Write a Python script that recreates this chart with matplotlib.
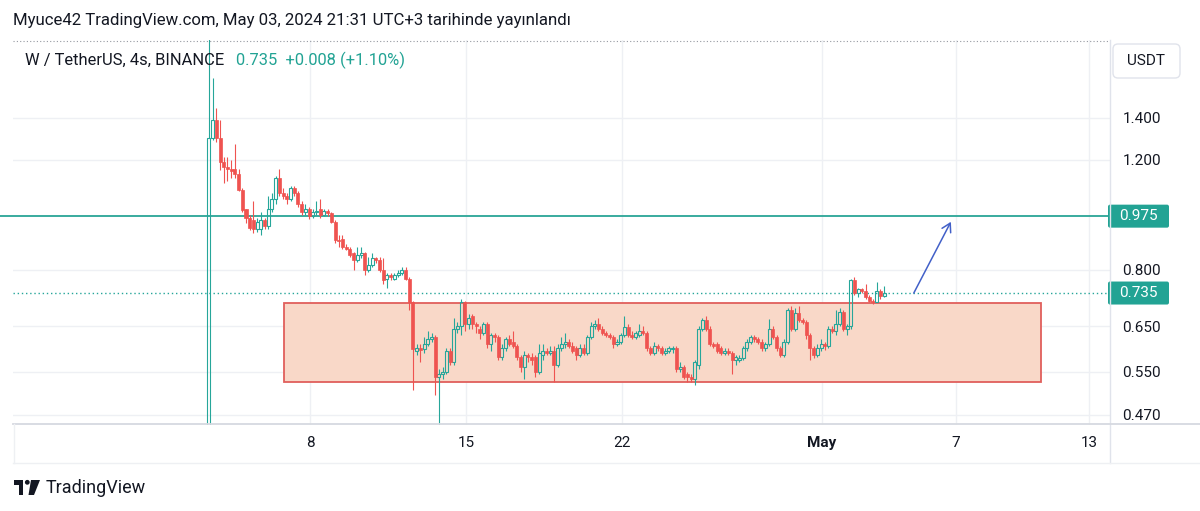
import matplotlib
matplotlib.use('Agg')
import matplotlib.pyplot as plt
import matplotlib.dates as mdates
import matplotlib.transforms as mtransforms
from matplotlib.patches import Rectangle, FancyBboxPatch, FancyArrowPatch, Polygon, Circle
from matplotlib.lines import Line2D
from matplotlib.ticker import NullLocator, FixedLocator
import numpy as np
import pandas as pd

plt.rcParams['font.family'] = ['Roboto', 'DejaVu Sans']

# ---------------- data (4h candles, W/USDT) ----------------
first_bar = '2024-04-03 11:00'
opens = [
    0.40, 1.30, 1.39, 1.30, 1.19, 1.17, 1.16, 1.16, 1.14, 1.074,
    1.0, 0.97, 0.96, 0.93, 0.93, 0.96, 0.94, 1.0, 1.04, 1.12,
    1.06, 1.05, 1.04, 1.08, 1.06, 1.02, 0.99, 1.0, 0.975, 0.99,
    1.0, 0.98, 0.995, 0.985, 0.955, 0.893, 0.895, 0.87, 0.865, 0.85,
    0.83, 0.845, 0.85, 0.80, 0.815, 0.835, 0.83, 0.80, 0.775, 0.785,
    0.775, 0.785, 0.79, 0.80, 0.775, 0.71, 0.595, 0.60, 0.598, 0.61,
    0.62, 0.625, 0.54, 0.545, 0.55, 0.595, 0.57, 0.645, 0.65, 0.71,
    0.655, 0.675, 0.655, 0.645, 0.635, 0.655, 0.61, 0.63, 0.625, 0.58,
    0.60, 0.62, 0.615, 0.605, 0.58, 0.56, 0.585, 0.58, 0.58, 0.55,
    0.585, 0.595, 0.59, 0.595, 0.565, 0.60, 0.61, 0.615, 0.605, 0.60,
    0.585, 0.60, 0.59, 0.625, 0.65, 0.655, 0.645, 0.635, 0.63, 0.625,
    0.61, 0.615, 0.63, 0.648, 0.63, 0.625, 0.63, 0.64, 0.635, 0.60,
    0.59, 0.605, 0.60, 0.59, 0.595, 0.598, 0.60, 0.555, 0.56, 0.545,
    0.54, 0.535, 0.565, 0.645, 0.665, 0.645, 0.61, 0.61, 0.60, 0.59,
    0.595, 0.59, 0.575, 0.575, 0.578, 0.60, 0.615, 0.625, 0.62, 0.615,
    0.60, 0.61, 0.645, 0.625, 0.60, 0.585, 0.615, 0.69, 0.645, 0.683,
    0.665, 0.66, 0.63, 0.60, 0.585, 0.60, 0.61, 0.605, 0.645, 0.64,
    0.655, 0.685, 0.645, 0.65, 0.77, 0.735, 0.745, 0.74, 0.725, 0.715,
    0.712, 0.74, 0.727]
highs = [
    2.20, 1.62, 1.45, 1.39, 1.21, 1.21, 1.20, 1.27, 1.16, 1.08,
    1.0, 0.98, 1.03, 0.97, 0.99, 0.97, 1.05, 1.06, 1.13, 1.16,
    1.08, 1.06, 1.09, 1.09, 1.07, 1.03, 1.02, 1.01, 1.0, 1.03,
    1.04, 1.0, 1.0, 0.99, 0.96, 0.91, 0.91, 0.88, 0.87, 0.855,
    0.87, 0.87, 0.855, 0.84, 0.85, 0.84, 0.84, 0.835, 0.79, 0.79,
    0.79, 0.80, 0.81, 0.81, 0.78, 0.715, 0.61, 0.61, 0.625, 0.64,
    0.635, 0.63, 0.555, 0.56, 0.60, 0.60, 0.67, 0.66, 0.72, 0.715,
    0.68, 0.68, 0.66, 0.65, 0.66, 0.66, 0.635, 0.635, 0.63, 0.61,
    0.625, 0.63, 0.64, 0.61, 0.585, 0.595, 0.59, 0.59, 0.585, 0.61,
    0.61, 0.60, 0.605, 0.605, 0.61, 0.625, 0.635, 0.62, 0.615, 0.605,
    0.61, 0.61, 0.63, 0.66, 0.665, 0.67, 0.65, 0.64, 0.635, 0.63,
    0.62, 0.635, 0.675, 0.655, 0.64, 0.64, 0.655, 0.65, 0.64, 0.605,
    0.615, 0.61, 0.605, 0.60, 0.605, 0.605, 0.605, 0.57, 0.565, 0.55,
    0.545, 0.575, 0.65, 0.67, 0.675, 0.65, 0.615, 0.615, 0.605, 0.60,
    0.60, 0.595, 0.585, 0.585, 0.605, 0.62, 0.63, 0.63, 0.625, 0.62,
    0.615, 0.668, 0.65, 0.63, 0.605, 0.62, 0.695, 0.70, 0.695, 0.70,
    0.67, 0.665, 0.635, 0.605, 0.61, 0.62, 0.615, 0.65, 0.65, 0.69,
    0.695, 0.69, 0.655, 0.775, 0.78, 0.75, 0.75, 0.76, 0.73, 0.72,
    0.765, 0.745, 0.755]
lows = [
    0.30, 1.29, 1.28, 1.155, 1.10, 1.11, 1.12, 1.12, 1.07, 0.99,
    0.95, 0.925, 0.915, 0.92, 0.91, 0.93, 0.93, 0.99, 1.02, 1.05,
    1.04, 1.02, 1.03, 1.05, 1.01, 0.98, 0.98, 0.965, 0.97, 0.98,
    0.97, 0.975, 0.975, 0.95, 0.885, 0.87, 0.865, 0.86, 0.84, 0.80,
    0.825, 0.835, 0.785, 0.795, 0.81, 0.82, 0.795, 0.76, 0.75, 0.77,
    0.77, 0.78, 0.785, 0.77, 0.69, 0.515, 0.585, 0.57, 0.59, 0.605,
    0.615, 0.505, 0.44, 0.535, 0.545, 0.565, 0.565, 0.635, 0.63, 0.64,
    0.645, 0.645, 0.635, 0.62, 0.63, 0.60, 0.595, 0.615, 0.575, 0.575,
    0.595, 0.605, 0.60, 0.575, 0.55, 0.535, 0.57, 0.565, 0.54, 0.545,
    0.575, 0.585, 0.585, 0.53, 0.56, 0.595, 0.60, 0.60, 0.59, 0.575,
    0.58, 0.585, 0.585, 0.62, 0.645, 0.64, 0.63, 0.625, 0.62, 0.60,
    0.605, 0.61, 0.625, 0.625, 0.62, 0.62, 0.625, 0.63, 0.595, 0.585,
    0.585, 0.595, 0.585, 0.585, 0.59, 0.59, 0.55, 0.55, 0.535, 0.53,
    0.53, 0.525, 0.555, 0.64, 0.64, 0.605, 0.60, 0.59, 0.585, 0.585,
    0.585, 0.545, 0.565, 0.57, 0.575, 0.595, 0.61, 0.615, 0.61, 0.595,
    0.595, 0.605, 0.62, 0.595, 0.58, 0.58, 0.61, 0.64, 0.64, 0.66,
    0.655, 0.62, 0.575, 0.578, 0.58, 0.595, 0.597, 0.60, 0.635, 0.63,
    0.65, 0.64, 0.63, 0.645, 0.73, 0.725, 0.735, 0.72, 0.71, 0.705,
    0.71, 0.72, 0.725]
closes = [
    1.30, 1.39, 1.30, 1.19, 1.17, 1.16, 1.15, 1.14, 1.074, 0.997,
    0.97, 0.935, 0.93, 0.955, 0.96, 0.94, 1.0, 1.04, 1.12, 1.06,
    1.05, 1.04, 1.08, 1.06, 1.02, 0.99, 1.0, 0.975, 0.99, 0.995,
    0.98, 0.995, 0.985, 0.955, 0.893, 0.89, 0.87, 0.865, 0.845, 0.83,
    0.845, 0.85, 0.80, 0.815, 0.835, 0.83, 0.80, 0.77, 0.785, 0.78,
    0.785, 0.79, 0.80, 0.775, 0.71, 0.598, 0.60, 0.597, 0.61, 0.62,
    0.625, 0.54, 0.545, 0.55, 0.595, 0.57, 0.645, 0.65, 0.71, 0.655,
    0.67, 0.655, 0.65, 0.635, 0.655, 0.61, 0.63, 0.625, 0.58, 0.60,
    0.62, 0.61, 0.605, 0.58, 0.56, 0.585, 0.58, 0.575, 0.55, 0.59,
    0.595, 0.59, 0.595, 0.565, 0.60, 0.61, 0.615, 0.605, 0.595, 0.585,
    0.60, 0.59, 0.625, 0.65, 0.655, 0.645, 0.635, 0.63, 0.625, 0.61,
    0.615, 0.63, 0.648, 0.63, 0.625, 0.635, 0.64, 0.635, 0.60, 0.59,
    0.605, 0.60, 0.59, 0.595, 0.60, 0.60, 0.555, 0.56, 0.54, 0.54,
    0.535, 0.57, 0.645, 0.665, 0.645, 0.61, 0.605, 0.595, 0.59, 0.595,
    0.59, 0.575, 0.58, 0.578, 0.60, 0.615, 0.625, 0.62, 0.615, 0.60,
    0.61, 0.645, 0.625, 0.60, 0.585, 0.615, 0.69, 0.645, 0.683, 0.665,
    0.66, 0.63, 0.60, 0.585, 0.60, 0.61, 0.605, 0.645, 0.64, 0.655,
    0.685, 0.645, 0.65, 0.77, 0.735, 0.745, 0.74, 0.725, 0.715, 0.712,
    0.74, 0.727, 0.735]

price_ticks = [1.400, 1.200, 0.800, 0.650, 0.550, 0.470]
time_ticks = ['2024-04-08', '2024-04-15', '2024-04-22', '2024-05-01', '2024-05-07', '2024-05-13']
time_labels = ['8', '15', '22', 'May', '7', '13']
resistance = 0.975
last_price = 0.735
zone_time = ['2024-04-06 20:00', '2024-05-10 20:00']
zone_price = [0.530, 0.709]
arrow_time = ['2024-05-05 03:00', '2024-05-06 19:00']
arrow_price = [0.735, 0.955]

title = 'Myuce42 TradingView.com, May 03, 2024 21:31 UTC+3 tarihinde yayınlandı'
legend_main = 'W / TetherUS, 4s, BINANCE'
legend_vals = '0.735  +0.008 (+1.10%)'

# ---------------- style ----------------
TEAL = '#26a69a'
RED = '#ef5350'
TXT = '#131722'
GRID = '#eef0f4'
W, H = 1200, 511

fig = plt.figure(figsize=(W / 100, H / 100), dpi=100)
fig.patch.set_facecolor('white')
PX = mtransforms.Affine2D().scale(1, -1).translate(0, H)  # image pixel coords (y down)


def fx(px):
    return px / W


def fy(py):
    return 1 - py / H


ax = fig.add_axes([fx(13), fy(425), (1110 - 13) / W, (425 - 40) / H])
ax.set_facecolor('white')

t = pd.date_range(first_bar, periods=len(closes), freq='4h')
xs = mdates.date2num(t.to_pydatetime())
o = np.array(opens)
c = np.array(closes)
hi = np.array(highs)
lo = np.array(lows)
up = c >= o
b_lo = np.minimum(o, c)
b_hi = np.maximum(np.maximum(o, c), b_lo * 1.003)
bw = 0.135

# zone rectangle
z0 = mdates.date2num(pd.Timestamp(zone_time[0]).to_pydatetime())
z1 = mdates.date2num(pd.Timestamp(zone_time[1]).to_pydatetime())
ax.add_patch(Rectangle((z0, zone_price[0]), z1 - z0, zone_price[1] - zone_price[0],
                       facecolor='#f9d8c8', edgecolor='#e05f5c', lw=1.3, zorder=1))

# candles
ax.vlines(xs[up], b_hi[up], np.maximum(hi[up], b_hi[up]), color=TEAL, lw=0.8, zorder=3)
ax.vlines(xs[up], np.minimum(lo[up], b_lo[up]), b_lo[up], color=TEAL, lw=0.8, zorder=3)
ax.vlines(xs[~up], lo[~up], hi[~up], color=RED, lw=0.8, zorder=3)
ax.bar(xs[up], b_hi[up] - b_lo[up], bottom=b_lo[up], width=bw, facecolor='none',
       edgecolor=TEAL, lw=0.8, zorder=4)
ax.bar(xs[~up], b_hi[~up] - b_lo[~up], bottom=b_lo[~up], width=bw, facecolor=RED,
       edgecolor=RED, lw=0.5, zorder=4)

# horizontal lines
ax.axhline(resistance, xmin=-13 / 1097, xmax=1.0, color='#2aa596', lw=1.3, zorder=2, clip_on=False)
ax.axhline(last_price, color=TEAL, lw=1.0, ls=(0, (1, 2)), zorder=2)

# arrow
a0 = mdates.date2num(pd.Timestamp(arrow_time[0]).to_pydatetime())
a1 = mdates.date2num(pd.Timestamp(arrow_time[1]).to_pydatetime())
ax.add_patch(FancyArrowPatch((a0, arrow_price[0]), (a1, arrow_price[1]),
                             arrowstyle='->,head_length=6,head_width=3.5', color='#4260c8',
                             lw=1.1, mutation_scale=1, zorder=5, shrinkA=0, shrinkB=0))

# scales
ax.set_yscale('log')
ax.set_ylim(0.4525, 1.863)
apr8 = mdates.date2num(pd.Timestamp('2024-04-08').to_pydatetime())
ppd = 22.26
ax.set_xlim(apr8 - 297 / ppd, apr8 + 800 / ppd)

ax.yaxis.set_major_locator(FixedLocator(price_ticks))
ax.yaxis.set_minor_locator(NullLocator())
ax.set_yticklabels(['%.3f' % v for v in price_ticks])
ax.yaxis.tick_right()
tt = [mdates.date2num(pd.Timestamp(s).to_pydatetime()) for s in time_ticks]
ax.set_xticks(tt)
ax.set_xticklabels(time_labels)
ax.xaxis.set_minor_locator(NullLocator())
for lab in ax.get_xticklabels():
    if lab.get_text() == 'May':
        lab.set_fontweight('bold')
ax.tick_params(axis='y', length=0, pad=9, labelsize=11, labelcolor=TXT)
ax.tick_params(axis='x', length=0, pad=8, labelsize=11, labelcolor=TXT)
ax.grid(True, color=GRID, lw=1, zorder=0)
ax.set_axisbelow(True)
for s in ax.spines.values():
    s.set_visible(False)

# frame lines (pixel coordinates)
def pline(x0, y0, x1, y1, **kw):
    fig.add_artist(Line2D([x0, x1], [y0, y1], transform=PX, **kw))


pline(13, 40.5, 1108, 40.5, color='#9598a1', lw=0.8, ls=(0, (1, 2)))
pline(1110, 40, 1110, 463, color='#e0e3eb', lw=1)
pline(13, 424, 1200, 424, color='#d6d9e0', lw=1.3)
pline(13, 463, 1200, 463, color='#eef0f3', lw=1)
pline(13.5, 424, 13.5, 463, color='#eef0f3', lw=1)

# price labels on axis
fig.canvas.draw()
for val in (resistance, last_price):
    ypx = H - ax.transData.transform((ax.get_xlim()[0], val))[1]
    fig.add_artist(FancyBboxPatch((1108, ypx - 11.5), 61, 23, boxstyle='round,pad=0,rounding_size=2',
                                  transform=PX, facecolor='#22a394', edgecolor='none'))
    fig.text(fx(1138.5), fy(ypx), '%.3f' % val, color='white', fontsize=11,
             ha='center', va='center')

# USDT box
fig.add_artist(FancyBboxPatch((1113, 44), 67, 34, boxstyle='round,pad=0,rounding_size=5',
                              transform=PX, facecolor='white', edgecolor='#e0e3eb', lw=1))
fig.text(fx(1146.5), fy(61), 'USDT', fontsize=11, color=TXT, ha='center', va='center')

# texts
fig.text(fx(13), fy(20), title, fontsize=12.1, color=TXT, ha='left', va='center')
fig.text(fx(25), fy(60), legend_main, fontsize=11.9, color=TXT, ha='left', va='center')
fig.text(fx(236), fy(60), legend_vals, fontsize=11.9, color='#22a394', ha='left', va='center')

# TradingView logo
fig.add_artist(Polygon([(14, 480), (23, 480), (23, 495), (19, 495), (19, 484.5), (14, 484.5)],
                       closed=True, transform=PX, facecolor=TXT, edgecolor='none'))
fig.add_artist(Circle((27.3, 482.3), 2.4, transform=PX, facecolor=TXT, edgecolor='none'))
fig.add_artist(Polygon([(31, 480), (40, 480), (34, 495), (28.5, 495)],
                       closed=True, transform=PX, facecolor=TXT, edgecolor='none'))
fig.text(fx(46), fy(487.5), 'TradingView', fontsize=13, color=TXT, ha='left', va='center')

fig.savefig('out.png', dpi=100, facecolor='white')
